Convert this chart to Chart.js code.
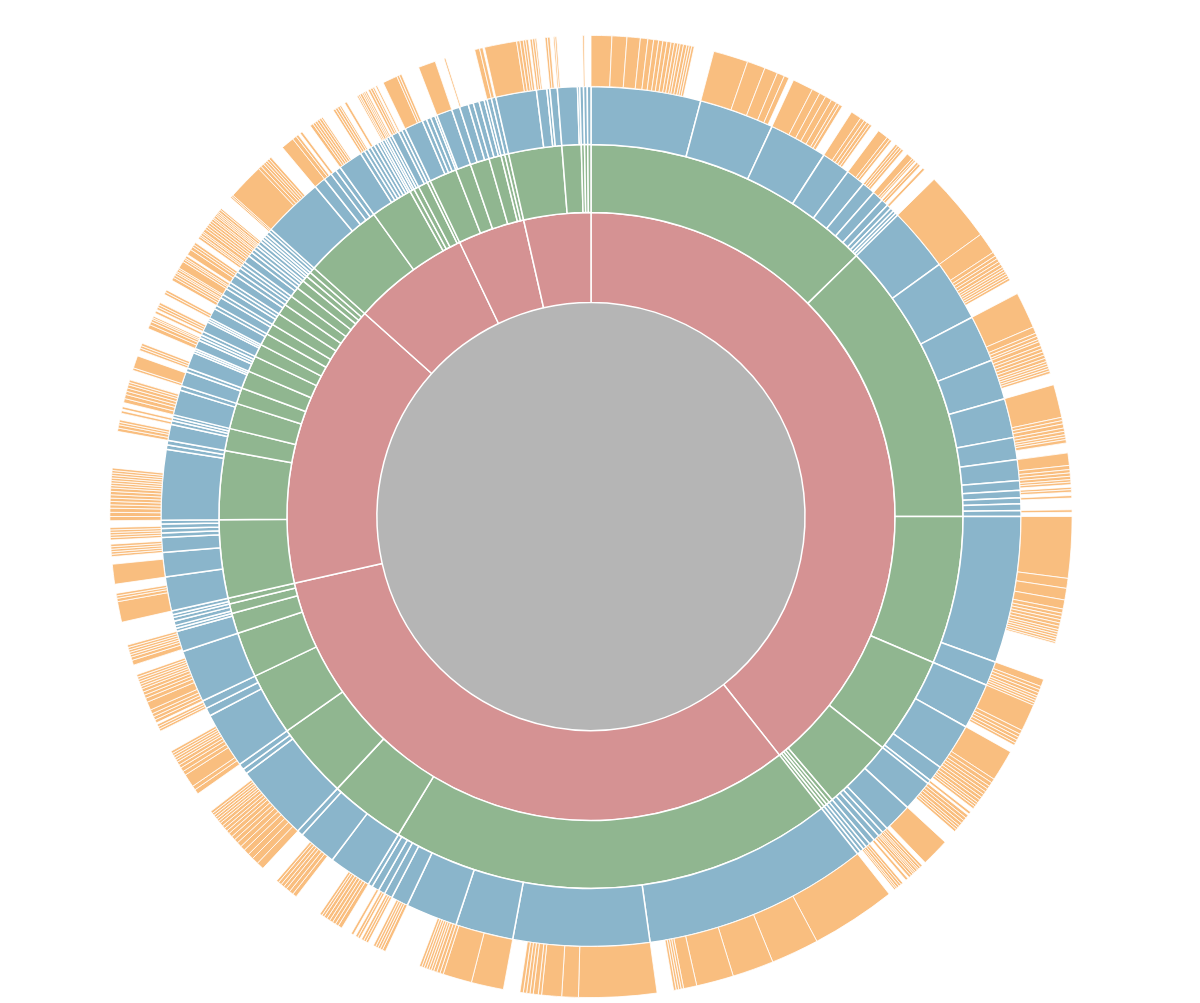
<!DOCTYPE html>
<html>
<head>
<meta charset="utf-8">
<title>Sunburst</title>
<script src="https://cdn.jsdelivr.net/npm/chart.js@4.4.1/dist/chart.umd.min.js"></script>
<style>
  html, body { margin: 0; padding: 0; background: #fff; }
  #wrap { width: 1200px; height: 1003px; }
</style>
</head>
<body>
<div id="wrap"><canvas id="sunburst"></canvas></div>
<script>
// angular share of each node (degrees), ring by ring from the centre outwards.
// every ring adds up to 360, children follow the order of their parents.
const centre = [360];

const level1 = [141.7, 115.6, 54.6, 22.5, 12.8, 12.8];

const level2 = [
  [45.5, 44.5, 23.1, 15.3, 11.2, 0.6, 0.5, 0.5, 0.5],
  [69.5, 11.8, 11.8, 9.8, 7.1, 3.2, 1.5, 0.9],
  [12.2, 10.7, 3.5, 4.0, 2.5, 2.8, 2.5, 2.0, 1.9, 1.7, 1.9, 1.7, 1.6, 1.6, 1.4, 0.9, 0.8, 0.9],
  [12.4, 6.6, 0.7, 0.8, 1.5, 0.5],
  [4.3, 2.4, 3.0, 1.9, 0.6, 0.6],
  [8.3, 3.0, 0.5, 0.5, 0.5],
];

const level3 = [
  [14.8, 10.1, 7.9, 3.9, 2.6, 1.8, 1.5, 1.0, 0.6, 0.5, 0.4, 0.4],
  [8.6, 8.3, 6.3, 5.4, 5.3, 3.0, 2.8, 1.3, 1.0, 0.8, 0.9, 0.8],
  [19.8, 3.3],
  [6.2, 6.4, 2.2, 0.5],
  [4.2, 3.9, 0.8, 0.7, 0.8, 0.8],
  [0.6], [0.5], [0.5], [0.5],
  [30.4, 18.4, 7.8, 7.0, 2.3, 1.1, 0.9, 1.0, 0.6],
  [5.8, 5.2, 0.8],
  [10.3, 0.7, 0.8],
  [7.6, 1.1, 1.1],
  [7.1],
  [2.8, 0.4],
  [0.4, 0.6, 0.5],
  [0.4, 0.5],
  [4.6, 3.3, 2.0, 0.6, 0.6, 0.6, 0.5],
  [9.5, 0.6, 0.6],
  [2.2, 0.5, 0.4, 0.4],
  [3.4, 0.6],
  [2.0, 0.5],
  [2.2, 0.3, 0.3],
  [1.2, 0.4, 0.4, 0.5],
  [1.4, 0.3, 0.3],
  [1.4, 0.5],
  [1.2, 0.5],
  [0.9, 0.5, 0.5],
  [1.1, 0.6],
  [0.6, 0.5, 0.5],
  [1.0, 0.6],
  [0.5, 0.5, 0.4],
  [0.5, 0.4],
  [0.4, 0.4],
  [0.5, 0.4],
  [8.2, 1.6, 1.1, 0.8, 0.7],
  [3.3, 0.6, 0.5, 0.5, 0.5, 0.5, 0.4, 0.3],
  [0.4, 0.3],
  [0.4, 0.4],
  [1.0, 0.5],
  [0.5],
  [2.5, 0.6, 0.6, 0.6],
  [0.3, 2.1],
  [1.1, 1.2, 0.7],
  [0.8, 0.7, 0.4],
  [0.6],
  [0.6],
  [5.5, 1.4, 0.4, 1.0],
  [2.7, 0.3],
  [0.5], [0.5], [0.5],
];

// negative value = part of the parent that has no child (left blank)
const level4 = [
  [2.5, 1.8, 1.6, 0.9, 0.7, 0.6, 0.5, 0.5, 0.5, 0.4, 0.4, 0.3, 0.4, 0.4, 0.3, 0.3, 0.3, -2.4],
  [4.2, 2.2, 1.6, 0.9, 0.6, -0.6],
  [2.5, 1.0, 0.8, 0.8, 0.7, 0.4, 0.4, -1.3],
  [1.3, 0.5, 0.4, 0.4, 0.3, -1.0],
  [1.3, 0.4, 0.3, -0.6],
  [0.3, 0.3, 0.3, 0.3, -0.6],
  [0.8, 0.3, 0.2, -0.2],
  [0.3, 0.3, -0.4],
  [0.3, -0.3], [-0.5], [-0.4], [-0.4],
  [8.6],
  [2.6, 0.5, 0.4, 0.4, 0.4, 0.4, 0.3, 0.3, 0.3, 0.3, 0.3, 0.3, -1.8],
  [4.4, 0.8, 0.4, 0.4, 0.3],
  [0.5, 0.4, 0.4, 0.4, 0.4, 0.4, 0.3, 0.3, 0.3, 0.3, 0.3, -1.4],
  [4.0, 0.4, 0.4, 0.5],
  [0.4, 0.4, 0.3, 0.3, 0.4, -1.2],
  [1.5, 0.5, 0.4, 0.4],
  [0.4, 0.3, 0.3, -0.3],
  [0.3, 0.3, -0.4],
  [0.3, -0.5], [-0.9], [0.3, -0.5],
  [7.4, 1.2, 1.4, 1.1, 0.5, 0.4, 0.4, 0.4, 0.4, 0.4, 0.3, 0.3, 0.3, 0.3, 0.3, 0.2, -4.5],
  [0.9, 0.4, 0.4, 0.4, 0.3, 0.3, 0.3, 0.3],
  [3.3, 0.5, 0.4, 0.4, 0.4, 0.3, -0.9],
  [3.8, 0.5, 0.5, 0.4, 0.4, 0.4, 0.4],
  [0.4, 0.4, 0.3, 0.3, 0.3, -0.5],
  [0.3, -0.2],
  [0.4, 0.4, 0.4, 0.4, 0.3, 0.3, 0.3, -1.7],
  [3.4, -0.5],
  [0.3, 0.3, 0.2], [0.3, 0.2, 0.2], [0.3, 0.3, -0.2], [0.3, -0.5],
  [0.3, 0.3], [0.3, 0.2], [0.2, -0.3], [-0.5],
  [10.3, 5.8, 5.0, 4.5, 1.6, 0.3, 0.3, 0.3, 0.3, -2.0],
  [9.4, 2.0, 2.4, 0.4, 0.6, 0.4, 0.4, 0.4, 0.4, -2.0],
  [3.9, 3.5, 0.4],
  [0.4, 0.4, 0.3, 0.3, 0.3, 0.3, 0.3, 0.3, -4.4],
  [0.4, 0.3, 0.3, 0.3, 0.3, -0.7],
  [0.3, 0.3, 0.3, -0.2],
  [0.3, 0.3, -0.3],
  [0.3, -0.7],
  [-0.6],
  [0.5, 0.4, 0.4, 0.4, 0.4, 0.4, 0.3, 0.3, -2.7],
  [-0.8, 0.5, 0.5, 0.5, 0.4, 0.4, 0.4, 0.3, -1.4],
  [-0.8],
  [0.9, 0.8, 0.7, 0.7, 0.6, 0.6, 0.5, 0.5, 0.5, 0.4, 0.4, 0.4, 0.4, 0.3, 0.3, 0.3, 0.3, 0.3, 0.3, -1.1],
  [-0.7],
  [-0.8],
  [0.6, 0.5, 1.6, 0.5, 0.5, 0.4, 0.4, 0.3, 0.3, 0.3, 0.3, 0.3, -1.6],
  [-1.1],
  [0.3, 0.3, 0.3, -0.2],
  [0.4, 0.4, 0.4, 0.5, 1.0, 0.5, 0.4, 0.4, 0.4, 0.3, 0.3, 0.3, 0.3, 0.3, 0.3, -0.9],
  [-0.3, 0.6, 0.4, 0.3, 0.3, 0.3, 0.3, 0.3],
  [-0.4],
  [-0.4], [-0.6], [-0.5],
  [-0.4], [-0.5],
  [2.5, 0.4, 0.3, 0.3, -1.1],
  [2.4, -0.9],
  [0.3, 0.3, 0.3, 0.3, 0.3, -0.5],
  [0.3, 0.3], [0.3, 0.3], [0.3, -0.3], [-0.5],
  [0.5, 0.5, 0.5, 0.4, 0.4, 0.4, 0.4, 0.4, 0.4, 0.3, 0.3, 0.3, 0.3, 0.3, 0.3, 0.3, 0.3, -3.2],
  [-0.6], [-0.6],
  [0.4, 0.4, 0.3, 0.3, -0.8],
  [0.3, -0.2], [0.3, -0.1], [-0.4],
  [0.5, 0.5, 0.4, 0.4, 0.4, 0.3, 0.3, -0.6],
  [-0.6],
  [0.3, 1.5, -0.2],
  [-0.5],
  [0.3, 0.3, 0.3, -1.3], [-0.3], [-0.3],
  [0.5, 0.4, 0.3], [0.2, 0.2], [-0.4], [0.3, -0.2],
  [0.3, 0.3, 0.3, -0.5], [-0.3], [-0.3],
  [0.3, 0.3, -0.8], [-0.5],
  [0.4, 0.3, 0.3, 0.2], [0.3, 0.2],
  [0.9], [0.3, 0.2], [0.3, -0.2],
  [0.7, 0.4], [0.3, 0.3],
  [-0.6], [0.3, 0.2], [0.3, 0.2],
  [0.4, 0.3, 0.3], [0.3, 0.3],
  [0.3, 0.2], [0.3, 0.2], [0.2, 0.2],
  [0.3, 0.2], [-0.4],
  [-0.4], [-0.4],
  [-0.5], [0.2, 0.2],
  [4.4, 0.4, 0.4, 0.3, 0.3, 0.3, 0.3, -1.8],
  [1.6],
  [0.5, 0.3, -0.3],
  [0.3, -0.5],
  [-0.7],
  [0.4, 0.3, 0.3, 0.3, 0.3, 0.2, -1.5],
  [0.3, 0.3], [0.3, 0.2], [-0.5], [0.3, -0.2], [-0.5], [-0.4], [-0.3],
  [0.2, 0.2], [0.3],
  [0.2, 0.2], [0.2, -0.2],
  [0.3, 0.3, 0.2, -0.2], [0.2, -0.3],
  [-0.5],
  [1.8, 0.3, 0.3, -0.1], [-0.6], [-0.6], [-0.6],
  [-0.3], [2.1],
  [-1.1], [0.2, -1.0], [-0.7],
  [-0.8], [-0.7], [-0.4],
  [0.6],
  [0.4, -0.2],
  [3.9, 0.4, 0.4, 0.3, 0.3, -0.2], [0.3, 0.3, 0.2, -0.6], [-0.4], [0.3, 0.3, -0.4],
  [0.2, 0.2, -2.3], [-0.3],
  [-0.5], [0.2, -0.3], [-0.5],
];

// outermost ring first, that is how the doughnut stacks datasets
const rings = [
  { values: level4.flat(), color: "#f9be7f", weight: 51, line: 0.8 },
  { values: level3.flat(), color: "#8ab5cb", weight: 58, line: 1.5 },
  { values: level2.flat(), color: "#90b690", weight: 68, line: 1.5 },
  { values: level1, color: "#d59293", weight: 90, line: 1.5 },
  { values: centre, color: "#b5b5b5", weight: 214, line: 0 },
];

const ctx = document.getElementById("sunburst").getContext("2d");

new Chart(ctx, {
  type: "doughnut",
  data: {
    datasets: rings.map((ring) => ({
      data: ring.values.map((v) => Math.abs(v)),
      backgroundColor: ring.values.map((v) => (v < 0 ? "rgba(0,0,0,0)" : ring.color)),
      borderColor: "#ffffff",
      borderWidth: ring.values.map((v) => (v < 0 ? 0 : ring.line)),
      weight: ring.weight,
    })),
  },
  options: {
    responsive: true,
    maintainAspectRatio: false,
    animation: false,
    cutout: 0,
    layout: { padding: { left: 0, right: 18, top: 35, bottom: 5 } },
    plugins: {
      legend: { display: false },
      tooltip: { enabled: false },
    },
  },
});
</script>
</body>
</html>
